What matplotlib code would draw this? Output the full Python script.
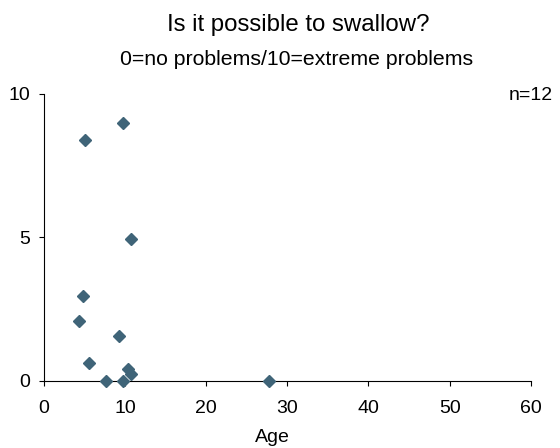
import matplotlib
matplotlib.use("Agg")
import matplotlib.pyplot as plt

plt.rcParams['font.family'] = ['Liberation Sans', 'DejaVu Sans']

age = [9.8, 5.1, 10.7, 4.85, 4.4, 9.3, 5.6, 10.4, 10.7, 7.7, 9.8, 27.8]
score = [9.0, 8.4, 4.95, 2.95, 2.1, 1.55, 0.62, 0.4, 0.23, 0.0, 0.0, 0.0]
n_label = "n=12"

fig = plt.figure(figsize=(5.6, 4.48), dpi=100)
ax = fig.add_axes([0.078, 0.1496, 0.870, 0.6406])

ax.plot(age, score, linestyle='none', marker='D', markersize=6.6,
        color='#3f6478', clip_on=False, zorder=3)

ax.set_xlim(0, 60)
ax.set_ylim(0, 10)
ax.set_xticks(range(0, 61, 10))
ax.set_yticks([0, 5, 10])
ax.spines['top'].set_visible(False)
ax.spines['right'].set_visible(False)
ax.tick_params(direction='out', length=3.6, labelsize=14)
ax.tick_params(axis='x', pad=10)
ax.tick_params(axis='y', pad=6.3)

fig.text(0.4866, 0.014, "Age", ha='center', va='baseline', fontsize=14)
fig.text(0.532, 0.9315, "Is it possible to swallow?", ha='center', va='baseline', fontsize=17.25)
fig.text(0.530, 0.855, "0=no problems/10=extreme problems", ha='center', va='baseline', fontsize=15.3)
fig.text(0.9875, 0.787, n_label, ha='right', va='center', fontsize=14)

fig.savefig("out.png", dpi=100)
